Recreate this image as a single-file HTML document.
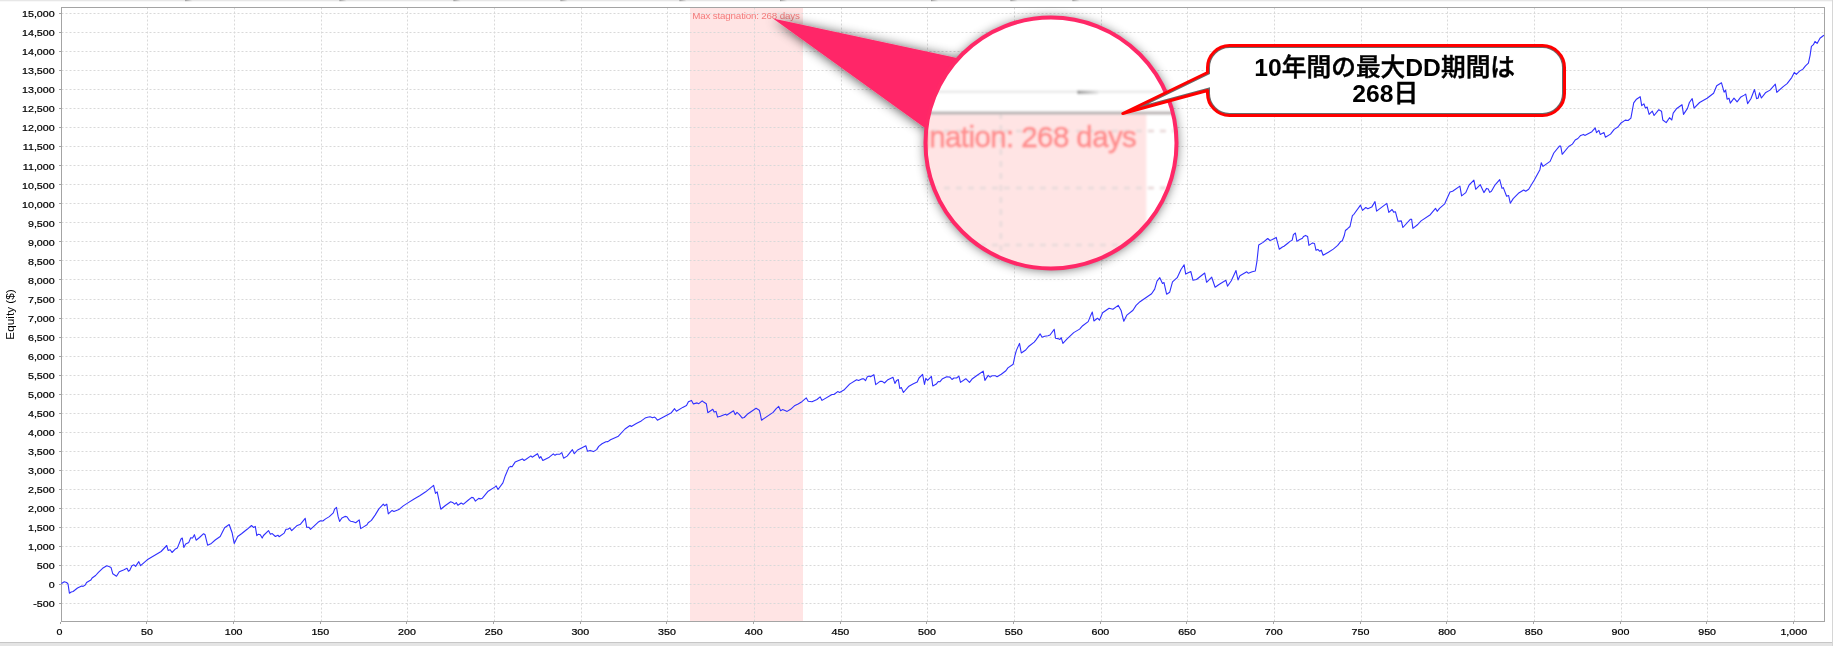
<!DOCTYPE html>
<html><head><meta charset="utf-8"><title>Equity chart</title>
<style>html,body{margin:0;padding:0;background:#fff;} body{width:1833px;height:646px;position:relative;overflow:hidden;}</style>
</head><body>
<svg width="1833" height="646" viewBox="0 0 1833 646" style="position:absolute;left:0;top:0;will-change:transform">
<defs>
<linearGradient id="ng" x1="0" x2="1" y1="0" y2="0"><stop offset="0" stop-color="#8c8c8c"/><stop offset="0.15" stop-color="#a8a8a8"/><stop offset="1" stop-color="#e7e7e7"/></linearGradient>
<filter id="sh" x="-30%" y="-30%" width="160%" height="160%"><feGaussianBlur in="SourceAlpha" stdDeviation="6"/><feOffset dx="0" dy="0.5" result="b"/><feComponentTransfer><feFuncA type="linear" slope="0.68"/></feComponentTransfer><feMerge><feMergeNode/><feMergeNode in="SourceGraphic"/></feMerge></filter>
<filter id="mb" x="-5%" y="-5%" width="110%" height="110%"><feGaussianBlur stdDeviation="0.9"/></filter>
<clipPath id="mc"><circle cx="1051" cy="143" r="125"/></clipPath>
</defs>
<rect x="0" y="0" width="1833" height="646" fill="#ffffff"/>
<rect x="0" y="0" width="1833" height="1" fill="#e7e7e7"/>
<rect x="0" y="1" width="1833" height="0.6" fill="#f3f3f3"/>
<rect x="185.2" y="0" width="7" height="1.2" fill="url(#ng)"/>
<rect x="339.5" y="0" width="7" height="1.2" fill="url(#ng)"/>
<rect x="453.5" y="0" width="7" height="1.2" fill="url(#ng)"/>
<rect x="560.5" y="0" width="7" height="1.2" fill="url(#ng)"/>
<rect x="679.5" y="0" width="7" height="1.2" fill="url(#ng)"/>
<rect x="780.0" y="0" width="7" height="1.2" fill="url(#ng)"/>
<rect x="931.0" y="0" width="7" height="1.2" fill="url(#ng)"/>
<rect x="1010.5" y="0" width="7" height="1.2" fill="url(#ng)"/>
<rect x="1072.5" y="0" width="7" height="1.2" fill="url(#ng)"/>
<rect x="0" y="642" width="1833" height="4" fill="#e4e4e4"/>
<rect x="0" y="642" width="1833" height="1" fill="#c6c6c6"/>
<rect x="1832" y="0" width="1" height="646" fill="#d6d6d6"/>
<rect x="690" y="8" width="113" height="613" fill="#ffe4e4"/>
<path d="M147.5 8V621 M234.5 8V621 M321.5 8V621 M407.5 8V621 M494.5 8V621 M581.5 8V621 M667.5 8V621 M754.5 8V621 M841.5 8V621 M927.5 8V621 M1014.5 8V621 M1101.5 8V621 M1187.5 8V621 M1274.5 8V621 M1361.5 8V621 M1447.5 8V621 M1534.5 8V621 M1621.5 8V621 M1707.5 8V621 M1794.5 8V621 M62 603.5H1824 M62 584.5H1824 M62 565.5H1824 M62 546.5H1824 M62 527.5H1824 M62 508.5H1824 M62 489.5H1824 M62 470.5H1824 M62 451.5H1824 M62 432.5H1824 M62 413.5H1824 M62 394.5H1824 M62 375.5H1824 M62 356.5H1824 M62 337.5H1824 M62 318.5H1824 M62 299.5H1824 M62 279.5H1824 M62 260.5H1824 M62 241.5H1824 M62 222.5H1824 M62 203.5H1824 M62 184.5H1824 M62 165.5H1824 M62 146.5H1824 M62 127.5H1824 M62 108.5H1824 M62 89.5H1824 M62 70.5H1824 M62 51.5H1824 M62 32.5H1824 M62 13.5H1824" stroke="#d9d9d9" stroke-width="1" stroke-dasharray="2 2" stroke-dashoffset="0.5" fill="none"/>
<path d="M60.5 622V624 M146.5 622V624 M233.5 622V624 M320.5 622V624 M406.5 622V624 M493.5 622V624 M580.5 622V624 M666.5 622V624 M753.5 622V624 M840.5 622V624 M926.5 622V624 M1013.5 622V624 M1100.5 622V624 M1186.5 622V624 M1273.5 622V624 M1360.5 622V624 M1446.5 622V624 M1533.5 622V624 M1620.5 622V624 M1706.5 622V624 M1793.5 622V624 M59 603.5H61 M59 584.5H61 M59 565.5H61 M59 546.5H61 M59 527.5H61 M59 508.5H61 M59 489.5H61 M59 470.5H61 M59 451.5H61 M59 432.5H61 M59 413.5H61 M59 394.5H61 M59 375.5H61 M59 356.5H61 M59 337.5H61 M59 318.5H61 M59 299.5H61 M59 279.5H61 M59 260.5H61 M59 241.5H61 M59 222.5H61 M59 203.5H61 M59 184.5H61 M59 165.5H61 M59 146.5H61 M59 127.5H61 M59 108.5H61 M59 89.5H61 M59 70.5H61 M59 51.5H61 M59 32.5H61 M59 13.5H61" stroke="#a4a4a4" stroke-width="1" fill="none"/>
<rect x="61.5" y="7.5" width="1763" height="614" fill="none" stroke="#a4a4a4" stroke-width="1"/>
<g font-family="Liberation Sans, sans-serif" font-size="9.3" fill="#000" stroke="#000" stroke-width="0.22" text-anchor="end" transform="translate(54.7 0) scale(1.15 1)">
<text x="0" y="607.3">-500</text>
<text x="0" y="588.3">0</text>
<text x="0" y="569.3">500</text>
<text x="0" y="550.2">1,000</text>
<text x="0" y="531.2">1,500</text>
<text x="0" y="512.2">2,000</text>
<text x="0" y="493.1">2,500</text>
<text x="0" y="474.1">3,000</text>
<text x="0" y="455.1">3,500</text>
<text x="0" y="436.0">4,000</text>
<text x="0" y="417.0">4,500</text>
<text x="0" y="398.0">5,000</text>
<text x="0" y="378.9">5,500</text>
<text x="0" y="359.9">6,000</text>
<text x="0" y="340.9">6,500</text>
<text x="0" y="321.8">7,000</text>
<text x="0" y="302.8">7,500</text>
<text x="0" y="283.8">8,000</text>
<text x="0" y="264.7">8,500</text>
<text x="0" y="245.7">9,000</text>
<text x="0" y="226.7">9,500</text>
<text x="0" y="207.6">10,000</text>
<text x="0" y="188.6">10,500</text>
<text x="0" y="169.6">11,000</text>
<text x="0" y="150.5">11,500</text>
<text x="0" y="131.5">12,000</text>
<text x="0" y="112.5">12,500</text>
<text x="0" y="93.4">13,000</text>
<text x="0" y="74.4">13,500</text>
<text x="0" y="55.4">14,000</text>
<text x="0" y="36.3">14,500</text>
<text x="0" y="17.3">15,000</text>
</g>
<g font-family="Liberation Sans, sans-serif" font-size="9.3" fill="#000" stroke="#000" stroke-width="0.22" text-anchor="middle" transform="scale(1.15 1)">
<text x="51.74" y="634.7">0</text>
<text x="127.80" y="634.7">50</text>
<text x="203.17" y="634.7">100</text>
<text x="278.54" y="634.7">150</text>
<text x="353.91" y="634.7">200</text>
<text x="429.28" y="634.7">250</text>
<text x="504.65" y="634.7">300</text>
<text x="580.02" y="634.7">350</text>
<text x="655.39" y="634.7">400</text>
<text x="730.76" y="634.7">450</text>
<text x="806.13" y="634.7">500</text>
<text x="881.50" y="634.7">550</text>
<text x="956.87" y="634.7">600</text>
<text x="1032.24" y="634.7">650</text>
<text x="1107.61" y="634.7">700</text>
<text x="1182.98" y="634.7">750</text>
<text x="1258.35" y="634.7">800</text>
<text x="1333.72" y="634.7">850</text>
<text x="1409.09" y="634.7">900</text>
<text x="1484.46" y="634.7">950</text>
<text x="1559.83" y="634.7">1,000</text>
</g>
<text transform="translate(13.9 314.5) rotate(-90)" font-family="Liberation Sans, sans-serif" font-size="11.8" text-anchor="middle" fill="#000">Equity ($)</text>
<text x="692.3" y="18.9" font-family="Liberation Sans, sans-serif" font-size="9.8" letter-spacing="-0.18" fill="#f47c7c">Max stagnation: 268 days</text>
<path d="M61.5 583.8 L61.9 583.2 L64.3 581.8 L66.6 582.5 L68.0 583.9 L69.4 593.2 L71.2 592.0 L73.1 591.5 L77.5 588.0 L81.7 586.0 L83.1 586.4 L85.2 585.0 L86.6 582.5 L90.8 580.1 L92.1 578.0 L95.6 575.5 L98.4 572.4 L102.6 568.3 L106.8 565.7 L108.9 566.4 L111.0 567.4 L112.8 573.8 L116.5 576.2 L119.3 571.7 L123.5 569.9 L127.0 568.3 L128.4 571.3 L129.8 570.2 L131.9 565.7 L134.0 564.8 L135.6 566.4 L138.8 561.6 L140.6 565.7 L147.2 559.8 L161.1 551.5 L166.7 545.5 L168.1 550.4 L170.2 549.7 L172.0 552.5 L175.0 549.3 L177.3 548.1 L181.0 539.0 L182.3 538.0 L183.8 547.5 L185.7 544.0 L188.8 542.4 L190.7 537.7 L192.6 538.0 L194.4 534.7 L196.1 540.2 L199.5 537.5 L203.6 533.7 L205.1 534.8 L207.6 545.2 L211.4 543.4 L215.2 540.0 L220.2 536.5 L224.6 527.7 L229.2 524.5 L232.1 532.7 L234.2 543.4 L237.7 536.5 L241.5 533.7 L247.1 529.3 L251.5 525.5 L253.4 527.4 L255.3 526.4 L256.8 535.6 L258.4 534.2 L260.3 534.8 L262.2 538.1 L263.5 535.5 L268.5 530.6 L270.4 534.3 L272.2 533.6 L275.4 536.5 L277.9 535.2 L279.1 536.7 L284.2 533.1 L286.0 529.3 L287.9 529.3 L289.8 527.9 L291.7 530.6 L296.7 525.8 L300.5 524.2 L305.2 518.3 L306.7 527.3 L309.0 527.4 L310.5 529.3 L314.3 525.8 L318.0 522.3 L320.5 520.8 L322.8 521.0 L325.6 518.9 L329.3 516.6 L333.3 512.9 L334.6 509.1 L336.5 507.4 L338.1 516.4 L339.6 521.4 L341.9 518.0 L345.0 516.4 L346.9 516.8 L349.4 520.4 L350.7 521.2 L353.2 521.8 L355.7 522.7 L359.2 519.9 L360.7 528.6 L363.2 527.1 L367.0 524.8 L368.2 522.7 L371.4 520.4 L375.1 515.1 L378.9 508.9 L383.3 504.2 L384.5 505.7 L386.8 504.2 L388.3 513.9 L392.1 510.4 L393.9 511.4 L398.3 509.7 L400.0 508.7 L403.3 505.9 L407.9 502.9 L414.5 498.7 L419.7 495.8 L425.7 491.8 L433.6 485.3 L435.5 493.4 L437.2 491.8 L440.8 509.2 L445.4 505.5 L450.7 501.7 L452.6 502.4 L454.6 504.2 L456.3 502.6 L457.9 505.3 L461.2 503.0 L463.2 504.3 L468.4 500.0 L471.7 497.4 L473.4 497.8 L475.4 501.1 L478.7 498.4 L480.5 498.9 L482.2 498.3 L488.2 491.2 L494.7 487.1 L496.1 485.8 L498.0 489.5 L502.9 482.9 L505.3 475.7 L508.9 467.4 L510.5 466.4 L512.1 466.8 L515.1 462.1 L522.4 458.9 L524.1 460.5 L525.7 459.5 L530.9 455.9 L532.2 457.2 L537.5 453.7 L539.5 458.2 L540.8 456.6 L542.8 460.5 L549.3 457.2 L553.3 453.9 L555.0 455.3 L556.6 454.3 L559.9 454.2 L561.8 452.6 L563.6 458.2 L567.1 456.1 L572.4 449.7 L574.3 453.7 L577.6 450.0 L585.9 445.8 L587.5 451.3 L590.1 450.4 L593.4 451.6 L596.7 449.6 L598.7 446.4 L602.0 443.7 L605.9 441.7 L607.9 441.6 L610.5 439.7 L618.4 436.2 L625.0 429.0 L630.0 425.5 L631.3 426.5 L636.3 423.6 L641.3 420.9 L645.1 418.1 L647.6 417.3 L650.1 416.7 L652.6 417.7 L654.5 417.1 L655.7 418.0 L657.4 420.2 L662.6 417.5 L671.4 412.7 L674.6 408.7 L676.4 411.2 L682.7 407.4 L686.5 405.5 L688.4 401.8 L691.5 400.4 L693.4 403.9 L697.1 402.9 L698.8 403.7 L702.2 400.8 L704.0 402.3 L706.3 403.7 L707.8 412.7 L712.8 409.3 L714.1 412.1 L716.0 411.4 L717.6 417.1 L720.4 416.2 L725.4 414.2 L726.6 415.2 L733.5 410.8 L735.2 414.6 L737.0 412.4 L739.2 414.3 L742.3 418.1 L744.2 417.5 L748.0 413.7 L756.1 408.3 L759.3 410.2 L760.3 414.0 L761.5 420.2 L773.1 412.4 L776.2 408.7 L778.7 406.4 L780.6 410.8 L782.5 409.6 L785.0 410.6 L787.1 411.4 L790.6 409.3 L794.4 405.8 L798.1 403.9 L801.9 401.7 L806.3 397.9 L808.2 401.2 L812.0 401.8 L817.0 399.5 L820.1 396.8 L822.0 400.4 L832.0 394.5 L833.9 394.5 L837.7 391.6 L839.6 392.4 L843.9 390.1 L849.6 384.1 L850.0 383.9 L856.6 379.7 L858.6 380.4 L861.8 378.9 L863.8 378.9 L865.5 380.7 L867.1 377.1 L869.1 376.1 L870.4 376.7 L873.9 374.7 L875.7 384.6 L880.0 381.4 L882.2 381.4 L884.5 383.0 L887.4 380.1 L893.0 377.3 L894.9 383.4 L896.7 380.4 L898.3 379.5 L899.8 388.5 L901.4 387.6 L903.4 392.5 L908.5 386.6 L913.4 383.8 L917.2 382.0 L919.0 378.0 L922.6 374.4 L924.5 384.5 L925.8 378.3 L927.6 380.4 L931.4 376.4 L932.8 386.0 L936.3 384.1 L938.2 381.5 L940.0 381.7 L942.1 379.1 L946.7 376.7 L950.0 377.1 L952.0 379.5 L953.9 378.0 L956.6 378.0 L958.9 376.1 L960.5 382.4 L965.8 378.7 L969.5 382.4 L972.4 378.7 L977.6 375.0 L983.2 371.1 L984.9 380.4 L988.2 375.4 L990.1 377.1 L992.1 375.8 L995.4 375.8 L997.1 376.8 L1001.3 374.3 L1005.9 370.8 L1007.9 367.9 L1013.2 364.2 L1015.1 355.0 L1016.4 350.4 L1019.5 343.4 L1021.3 353.0 L1025.7 350.0 L1028.9 346.2 L1034.2 342.1 L1036.2 339.6 L1040.1 333.9 L1042.1 337.2 L1044.7 336.3 L1048.0 335.7 L1050.0 335.0 L1054.2 329.3 L1055.5 338.2 L1057.9 338.6 L1059.9 339.5 L1061.2 337.6 L1062.9 343.4 L1067.1 338.9 L1073.7 332.6 L1079.6 329.1 L1082.7 325.7 L1088.2 321.6 L1090.5 315.9 L1092.3 312.0 L1093.9 321.0 L1097.4 318.2 L1099.5 320.1 L1102.6 312.8 L1109.1 308.2 L1112.9 309.3 L1118.3 305.4 L1121.1 310.5 L1123.8 321.3 L1126.9 315.1 L1133.0 310.2 L1136.1 305.4 L1140.0 301.7 L1151.6 293.8 L1154.7 289.1 L1157.0 281.1 L1159.8 277.7 L1162.5 283.4 L1164.0 282.6 L1166.6 294.2 L1169.7 292.2 L1172.5 281.9 L1177.2 277.7 L1181.0 269.5 L1184.1 264.8 L1185.7 274.1 L1190.8 271.5 L1193.0 280.3 L1196.5 279.5 L1204.7 273.0 L1206.6 282.3 L1211.7 277.2 L1215.1 287.3 L1219.0 284.5 L1225.9 280.3 L1227.5 286.2 L1231.3 280.8 L1236.0 270.6 L1238.0 280.0 L1239.9 275.7 L1246.8 271.8 L1248.4 273.3 L1252.2 271.8 L1255.3 271.0 L1256.9 261.7 L1258.7 245.0 L1263.1 242.4 L1267.7 238.5 L1270.0 240.5 L1272.4 239.6 L1276.2 237.4 L1279.3 249.3 L1282.4 247.0 L1284.0 246.3 L1287.8 243.2 L1290.0 241.4 L1292.2 240.1 L1293.4 234.6 L1295.4 233.0 L1296.9 241.4 L1299.3 239.8 L1302.4 238.3 L1303.6 236.4 L1305.5 235.4 L1307.6 236.4 L1308.9 245.4 L1310.7 244.1 L1312.6 242.9 L1314.5 243.5 L1316.0 250.3 L1317.9 249.4 L1319.7 251.3 L1321.3 250.2 L1323.1 255.3 L1328.4 252.2 L1333.3 249.1 L1337.7 245.4 L1340.8 241.4 L1342.3 240.7 L1344.2 235.8 L1345.4 230.5 L1347.6 228.7 L1350.0 226.5 L1352.4 215.7 L1353.9 214.3 L1360.5 205.1 L1362.5 210.4 L1365.8 207.5 L1367.8 208.8 L1371.7 207.1 L1375.0 201.6 L1376.6 211.1 L1386.8 203.4 L1388.8 212.4 L1392.1 209.5 L1393.7 212.1 L1395.4 211.7 L1398.0 221.3 L1401.3 220.9 L1402.9 227.5 L1410.5 219.2 L1411.6 219.2 L1412.9 228.4 L1417.8 224.5 L1421.1 220.9 L1430.3 214.7 L1435.5 208.4 L1437.2 211.3 L1439.5 208.4 L1444.7 203.8 L1446.7 199.2 L1450.0 192.0 L1452.6 191.3 L1459.9 186.1 L1461.6 195.9 L1465.8 192.6 L1469.1 185.0 L1473.9 180.1 L1475.7 189.3 L1480.3 184.7 L1483.9 192.6 L1486.6 188.4 L1488.2 188.9 L1489.7 192.4 L1491.4 191.3 L1494.7 185.4 L1499.7 179.7 L1502.0 188.4 L1503.3 187.6 L1506.6 196.3 L1508.6 195.5 L1510.3 203.2 L1513.2 198.6 L1518.4 193.3 L1523.7 190.0 L1525.7 191.3 L1528.7 189.2 L1534.3 180.0 L1539.9 169.7 L1541.3 162.7 L1543.0 166.4 L1550.1 161.4 L1553.8 153.0 L1559.4 146.1 L1560.7 146.0 L1562.2 154.3 L1568.7 146.5 L1572.4 144.1 L1575.2 140.0 L1577.9 138.5 L1580.7 135.4 L1583.5 134.4 L1584.8 135.4 L1591.9 131.7 L1595.2 127.9 L1596.5 132.6 L1598.9 130.4 L1600.2 134.4 L1604.0 132.6 L1605.4 137.2 L1610.5 134.1 L1614.2 129.4 L1617.9 127.0 L1620.7 123.3 L1625.3 120.1 L1628.1 120.5 L1630.9 118.1 L1633.7 102.9 L1636.5 99.2 L1640.2 96.7 L1641.7 105.7 L1643.9 103.8 L1645.4 108.1 L1647.2 107.1 L1649.1 114.4 L1652.3 111.2 L1654.1 115.5 L1658.8 109.7 L1661.5 111.2 L1662.8 120.0 L1666.2 122.6 L1669.5 117.7 L1671.8 120.0 L1673.2 113.1 L1676.4 108.8 L1682.0 104.7 L1683.5 114.4 L1687.5 108.4 L1689.4 102.5 L1692.2 98.6 L1694.1 108.1 L1699.6 102.5 L1707.1 98.2 L1713.6 93.2 L1716.7 85.8 L1721.5 82.8 L1724.1 92.1 L1725.6 90.2 L1727.1 99.2 L1729.0 98.2 L1730.3 103.2 L1734.0 98.2 L1737.1 101.9 L1740.5 97.3 L1744.2 95.1 L1745.7 94.1 L1747.6 103.6 L1750.9 98.7 L1754.5 89.5 L1756.6 98.7 L1758.2 98.0 L1759.5 92.8 L1761.4 98.0 L1765.4 92.8 L1770.0 90.1 L1775.3 84.2 L1776.8 92.4 L1783.2 86.6 L1787.1 83.6 L1791.7 77.6 L1794.3 72.4 L1796.3 74.3 L1799.6 71.1 L1802.9 69.1 L1805.5 65.8 L1808.4 63.2 L1810.1 55.3 L1811.4 46.4 L1813.4 44.7 L1815.0 41.4 L1817.1 43.4 L1820.0 38.2 L1823.9 35.3" fill="none" stroke="#3030ff" stroke-width="1.1" stroke-linejoin="round"/>
<g filter="url(#sh)"><path d="M773 18.4 L1000 67.2 L1051 143 L950 146 Z" fill="#ff2867"/><circle cx="1051" cy="143" r="125.5" fill="#fff"/></g>
<g clip-path="url(#mc)"><g filter="url(#mb)"><g transform="translate(1051 143) scale(3) translate(-771.2 -17.5)">
<rect x="700" y="-30" width="150" height="100" fill="#fff"/>
<rect x="0" y="0" width="1833" height="0.8" fill="#e9e9e9"/>
<rect x="185.2" y="0" width="7" height="1.2" fill="url(#ng)"/>
<rect x="339.5" y="0" width="7" height="1.2" fill="url(#ng)"/>
<rect x="453.5" y="0" width="7" height="1.2" fill="url(#ng)"/>
<rect x="560.5" y="0" width="7" height="1.2" fill="url(#ng)"/>
<rect x="679.5" y="0" width="7" height="1.2" fill="url(#ng)"/>
<rect x="780.0" y="0" width="7" height="1.2" fill="url(#ng)"/>
<rect x="931.0" y="0" width="7" height="1.2" fill="url(#ng)"/>
<rect x="1010.5" y="0" width="7" height="1.2" fill="url(#ng)"/>
<rect x="1072.5" y="0" width="7" height="1.2" fill="url(#ng)"/>
<rect x="690" y="8" width="113" height="613" fill="#ffe4e4"/>
<path d="M754.5 8V621 M841.5 8V621 M700 51.5H850 M700 32.5H850 M700 13.5H850" stroke="#ebdcdc" stroke-width="1" stroke-dasharray="2 2" stroke-dashoffset="0.5" fill="none"/>
<path d="M700 7.5H850" stroke="#b8b2b2" stroke-width="1"/>
<text x="692.3" y="18.9" font-family="Liberation Sans, sans-serif" font-size="9.8" letter-spacing="-0.18" fill="#ff8f8f" stroke="#ff8f8f" stroke-width="0.25">Max stagnation: 268 days</text>
</g></g></g>
<circle cx="1051" cy="143" r="125.5" fill="none" stroke="#ff2867" stroke-width="4"/>
<clipPath id="cc"><path d="M1229.5 45.5 H1542.5 A22 22 0 0 1 1564.5 67.5 V93.5 A22 22 0 0 1 1542.5 115.5 H1229.5 A22 22 0 0 1 1207.5 93.5 V90.5 L1122.8 113.5 L1207.5 72.5 V67.5 A22 22 0 0 1 1229.5 45.5 Z"/></clipPath>
<path d="M1229.5 45.5 H1542.5 A22 22 0 0 1 1564.5 67.5 V93.5 A22 22 0 0 1 1542.5 115.5 H1229.5 A22 22 0 0 1 1207.5 93.5 V90.5 L1122.8 113.5 L1207.5 72.5 V67.5 A22 22 0 0 1 1229.5 45.5 Z" fill="#fff"/>
<path d="M1229.5 45.5 H1542.5 A22 22 0 0 1 1564.5 67.5 V93.5 A22 22 0 0 1 1542.5 115.5 H1229.5 A22 22 0 0 1 1207.5 93.5 V90.5 L1122.8 113.5 L1207.5 72.5 V67.5 A22 22 0 0 1 1229.5 45.5 Z" fill="none" stroke="#6a6a6a" stroke-width="5" clip-path="url(#cc)"/>
<path d="M1229.5 45.5 H1542.5 A22 22 0 0 1 1564.5 67.5 V93.5 A22 22 0 0 1 1542.5 115.5 H1229.5 A22 22 0 0 1 1207.5 93.5 V90.5 L1122.8 113.5 L1207.5 72.5 V67.5 A22 22 0 0 1 1229.5 45.5 Z" fill="none" stroke="#ff0000" stroke-width="3" stroke-linejoin="round"/>
<g font-family="Liberation Sans, Noto Sans CJK JP, sans-serif" font-weight="bold" font-size="24.7" fill="#000" text-anchor="middle">
<text x="1384.7" y="76.3"><tspan font-family="Liberation Sans, sans-serif">10</tspan><tspan font-weight="500" stroke="#000" stroke-width="0.5">年間の最大</tspan><tspan font-family="Liberation Sans, sans-serif">DD</tspan><tspan font-weight="500" stroke="#000" stroke-width="0.5">期間は</tspan></text>
<text x="1385.3" y="102"><tspan font-family="Liberation Sans, sans-serif">268</tspan><tspan font-weight="500" stroke="#000" stroke-width="0.5">日</tspan></text>
</g>
</svg>
</body></html>
